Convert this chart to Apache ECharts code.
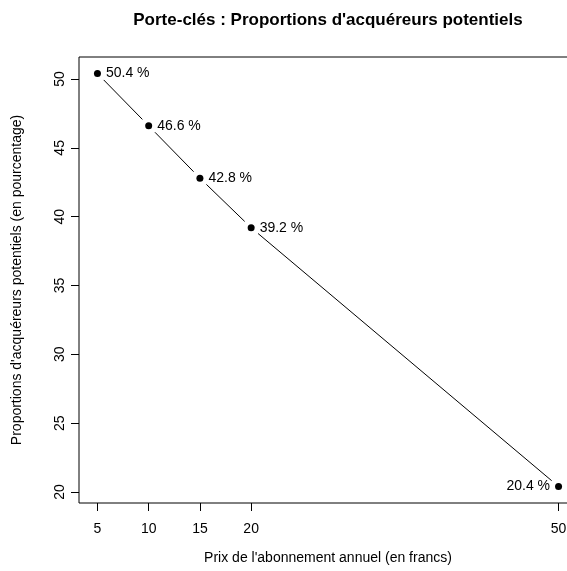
<!DOCTYPE html>
<html>
<head>
<meta charset="utf-8">
<script src="https://cdn.jsdelivr.net/npm/echarts@6/dist/echarts.min.js"></script>
<style>
  html, body { margin: 0; padding: 0; background: #fff; }
  #chart { width: 567px; height: 571px; }
</style>
</head>
<body>
<div id="chart"></div>
<script>
// Prix annuel (francs) et proportion d'acquéreurs potentiels (%)
var prix = [5, 10, 15, 20, 50];
var proportions = [50.4, 46.6, 42.8, 39.2, 20.4];
var labelSides = ['right', 'right', 'right', 'right', 'left'];
var xTicks = [5, 10, 15, 20, 50];
var yTicks = [20, 25, 30, 35, 40, 45, 50];

var FONT = '"Liberation Sans", Arial, Helvetica, sans-serif';
var GAP = 9; // px left free around each point on the connecting segments

var points = prix.map(function (p, i) { return [p, proportions[i]]; });
var labelledPoints = points.map(function (pt, i) {
  return { value: pt, label: { position: labelSides[i] } };
});
// consecutive point pairs: [x1, y1, x2, y2]
var segments = [];
for (var i = 0; i < points.length - 1; i++) {
  segments.push([points[i][0], points[i][1], points[i + 1][0], points[i + 1][1]]);
}

var chart = echarts.init(document.getElementById('chart'), null, { renderer: 'canvas' });

chart.setOption({
  animation: false,
  backgroundColor: '#ffffff',
  textStyle: { fontFamily: FONT, color: '#000' },
  title: {
    text: "Porte-clés : Proportions d'acquéreurs potentiels",
    left: 328,
    top: 12,
    textAlign: 'center',
    padding: 0,
    textStyle: { fontFamily: FONT, fontSize: 17, fontWeight: 'bold', color: '#000' }
  },
  grid: {
    left: 79,
    top: 57,
    width: 498,
    height: 446,
    outerBoundsMode: 'none',
    containLabel: false,
    show: true,
    borderColor: '#000',
    borderWidth: 1,
    backgroundColor: 'transparent'
  },
  xAxis: {
    type: 'value',
    min: 3.2,
    max: 51.8,
    name: "Prix de l'abonnement annuel (en francs)",
    nameLocation: 'middle',
    nameGap: 48,
    nameTextStyle: { fontFamily: FONT, fontSize: 14, color: '#000' },
    axisLine: { show: false },
    axisTick: { show: true, length: 8, customValues: xTicks, lineStyle: { color: '#000' } },
    axisLabel: { customValues: xTicks, margin: 19, fontFamily: FONT, fontSize: 14, color: '#000' },
    splitLine: { show: false }
  },
  yAxis: {
    type: 'value',
    min: 19.2,
    max: 51.6,
    name: "Proportions d'acquéreurs potentiels (en pourcentage)",
    nameLocation: 'middle',
    nameRotate: 90,
    nameGap: 55,
    nameTextStyle: { fontFamily: FONT, fontSize: 14, color: '#000' },
    axisLine: { show: false },
    axisTick: { show: true, length: 8, customValues: yTicks, lineStyle: { color: '#000' } },
    axisLabel: { customValues: yTicks, rotate: 90, margin: 12, fontFamily: FONT, fontSize: 14, color: '#000' },
    splitLine: { show: false }
  },
  series: [
    {
      // connecting segments, shortened at both ends
      type: 'custom',
      data: segments,
      silent: true,
      z: 2,
      renderItem: function (params, api) {
        var a = api.coord([api.value(0), api.value(1)]);
        var b = api.coord([api.value(2), api.value(3)]);
        var dx = b[0] - a[0], dy = b[1] - a[1];
        var len = Math.sqrt(dx * dx + dy * dy);
        if (len <= 2 * GAP) return null;
        var ux = dx / len, uy = dy / len;
        return {
          type: 'line',
          shape: {
            x1: a[0] + ux * GAP, y1: a[1] + uy * GAP,
            x2: b[0] - ux * GAP, y2: b[1] - uy * GAP
          },
          style: { stroke: '#000', lineWidth: 1 }
        };
      }
    },
    {
      type: 'scatter',
      data: labelledPoints,
      symbol: 'circle',
      symbolSize: 7,
      itemStyle: { color: '#000', opacity: 1 },
      z: 4,
      label: {
        show: true,
        distance: 5,
        fontFamily: FONT,
        fontSize: 14,
        color: '#000',
        formatter: function (p) { return p.value[1].toFixed(1) + ' %'; }
      }
    }
  ]
});
</script>
</body>
</html>
